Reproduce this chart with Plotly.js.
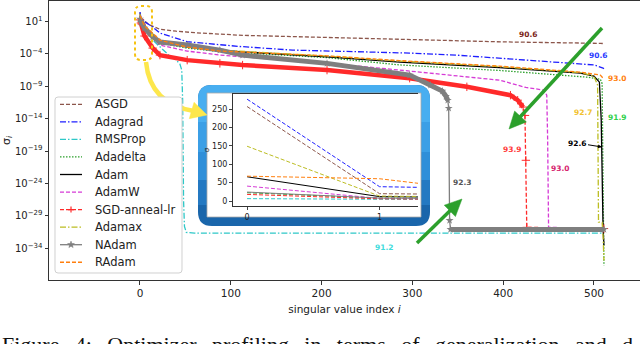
<!DOCTYPE html>
<html>
<head>
<meta charset="utf-8">
<script src="https://cdn.plot.ly/plotly-3.0.1.min.js"></script>
<style>
  html, body { margin: 0; padding: 0; background: #fff; }
  #chart { width: 640px; height: 344px; }
</style>
</head>
<body>
<div id="chart"></div>
<script>
/* singular value spectrum per optimizer (index i -> sigma_i) */

const names = ['ASGD', 'Adagrad', 'RMSProp', 'Adadelta', 'Adam', 'AdamW', 'SGD-anneal-lr', 'Adamax', 'NAdam', 'RAdam'];
const accText = ['90.6', '90.6', '91.2', '91.9', '92.6', '93.0', '93.9', '92.7', '92.3', '93.0'];

const asgdIdx = [0, 1, 2, 5, 10, 22, 40, 60, 113, 206, 297, 400, 507, 511];
const asgdVal = [257, 20, 17, 12, 3.2, 0.63, 0.32, 0.19, 0.074, 0.032, 0.014, 0.0072, 0.0043, 0.004];

const adagradIdx = [0, 1, 2, 5, 14, 22, 52, 69, 110, 168, 230, 297, 350, 396, 463, 500, 510, 511];
const adagradVal = [277, 39, 33, 10, 1.4, 0.166, 7.6e-3, 4.7e-3, 1.4e-3, 3.9e-4, 2.2e-4, 1.35e-4, 6.3e-5, 2.3e-5, 5.5e-6, 2e-6, 6.5e-7, 5e-7];

const rmspropIdx = [0, 1, 2, 5, 14, 22, 33, 40, 44, 46, 47, 48, 49, 51, 60, 511];
const rmspropVal = [6.5, 4, 3, 0.49, 0.0138, 1.15e-3, 4.6e-5, 1.1e-5, 2.7e-6, 3.2e-7, 7.2e-12, 2.5e-27, 2.3e-31, 2.8e-32, 2.2e-32, 2.2e-32];

const adadeltaIdx = [0, 1, 2, 5, 14, 22, 52, 88, 206, 286, 396, 492, 507, 509, 510, 511];
const adadeltaVal = [22.7, 8, 6, 1.0, 0.058, 4.7e-3, 7.9e-4, 2.3e-4, 2.7e-5, 2e-6, 2.8e-7, 2.6e-8, 1.26e-8, 2.5e-9, 3.2e-24, 2.2e-37];

const adamIdx = [0, 1, 2, 5, 14, 22, 52, 88, 113, 206, 286, 396, 485, 500, 506, 508, 509, 510, 511];
const adamVal = [66, 12, 8.9, 1.4, 0.081, 6.8e-3, 1.15e-3, 3.9e-4, 2.1e-4, 3.6e-5, 5.5e-6, 7.8e-7, 1.1e-7, 3.7e-8, 4.4e-9, 6.3e-15, 2.5e-27, 1.6e-31, 2.8e-34];

const adamwIdx = [0, 1, 2, 5, 14, 22, 52, 88, 206, 286, 396, 425, 445, 448, 449, 450, 511];
const adamwVal = [40.6, 7.1, 5, 0.8, 0.028, 2.3e-3, 2.75e-4, 6.6e-5, 3.8e-6, 3.2e-7, 8.9e-9, 6.6e-10, 2.6e-10, 4.3e-11, 5e-18, 1.7e-31, 1.1e-31];

const sgdIdx = [0, 1, 2, 5, 14, 22, 52, 88, 113, 206, 297, 360, 408, 416, 422, 424, 425, 426, 511];
const sgdVal = [18, 6, 4, 0.058, 7.9e-4, 6.6e-5, 1.1e-5, 3.5e-6, 1.9e-6, 3.2e-7, 1.8e-8, 8.3e-10, 4.3e-11, 7.2e-12, 6.3e-13, 3.2e-14, 3.8e-21, 1.7e-31, 1.1e-31];

const adamaxIdx = [0, 1, 2, 5, 14, 22, 52, 88, 206, 286, 396, 485, 500, 504, 505, 509, 510, 511];
const adamaxVal = [149, 13.5, 10, 1.6, 0.117, 9.5e-3, 1.35e-3, 3.9e-4, 4.6e-5, 7.8e-6, 1.1e-6, 1.3e-7, 3.7e-8, 1.5e-9, 1.1e-30, 1e-30, 1e-32, 1.3e-36];

const nadamIdx = [0, 1, 2, 5, 14, 22, 52, 88, 113, 206, 297, 320, 333, 337, 339, 340, 341, 342, 511];
const nadamVal = [24.4, 8, 6, 1.0, 0.045, 6.8e-3, 2.3e-3, 3.9e-4, 6.6e-5, 3.5e-6, 5.4e-8, 1.5e-9, 1.8e-10, 3e-11, 7.2e-12, 4.2e-13, 2e-30, 8.1e-32, 8.1e-32];

const radamIdx = [0, 1, 2, 5, 14, 22, 52, 88, 206, 286, 396, 485, 507, 511];
const radamVal = [67.6, 60.6, 18, 2.0, 0.166, 0.0138, 1.15e-3, 2.75e-4, 5.1e-5, 9.3e-6, 1.3e-6, 1.55e-7, 5.4e-8, 1.3e-8];

const yTickVals = [1e1, 1e-4, 1e-9, 1e-14, 1e-19, 1e-24, 1e-29, 1e-34];
const yTickText = ['10<sup>1</sup>', '10<sup>−4</sup>', '10<sup>−9</sup>', '10<sup>−14</sup>', '10<sup>−19</sup>', '10<sup>−24</sup>', '10<sup>−29</sup>', '10<sup>−34</sup>'];

const captionWords = ['Figure', '4:', 'Optimizer', 'profiling', 'in', 'terms', 'of', 'generalization', 'and', 'd'];

const idxList = [asgdIdx, adagradIdx, rmspropIdx, adadeltaIdx, adamIdx, adamwIdx, sgdIdx, adamaxIdx, nadamIdx, radamIdx];
const valList = [asgdVal, adagradVal, rmspropVal, adadeltaVal, adamVal, adamwVal, sgdVal, adamaxVal, nadamVal, radamVal];

// line styles (matplotlib-ish)
const DASH = '4px,2px', DASHDOT = '6px,2px,1.5px,2px', DOT = '1.5px,1.5px';
const styles = [
  { color: '#8c564b', dash: DASH },
  { color: '#1f1fff', dash: DASHDOT },
  { color: '#2ec8c8', dash: DASHDOT },
  { color: '#2ca02c', dash: DOT },
  { color: '#000000', dash: 'solid' },
  { color: '#d63bd6', dash: DASH },
  { color: '#ff2a2a', dash: DASH, marker: { symbol: 'cross-thin', size: 6, line: { width: 1, color: '#ff2a2a' } } },
  { color: '#bcbd22', dash: DASHDOT },
  { color: '#7f7f7f', dash: 'solid', marker: { symbol: 'star', size: 6, color: '#7f7f7f' } },
  { color: '#ff7f0e', dash: DASH },
];

// pixel -> paper helpers (plot area 49..640 x 1..280)
const PL = 49, PT = 1, PW = 591, PH = 279;
const px = x => (x - PL) / PW;
const py = y => (PT + PH - y) / PH;
const P = (x, y) => px(x).toFixed(5) + ',' + py(y).toFixed(5);
const paper = { xref: 'paper', yref: 'paper' };

function rrect(x0, y0, x1, y1, r, topOnly) {
  const rb = topOnly ? 0 : r;
  return `M${P(x0 + r, y0)} L${P(x1 - r, y0)} Q${P(x1, y0)} ${P(x1, y0 + r)} ` +
    `L${P(x1, y1 - rb)} Q${P(x1, y1)} ${P(x1 - rb, y1)} L${P(x0 + rb, y1)} Q${P(x0, y1)} ${P(x0, y1 - rb)} ` +
    `L${P(x0, y0 + r)} Q${P(x0, y0)} ${P(x0 + r, y0)} Z`;
}

function head(bx0, by0, x1, y1, hl, hw, color) {
  const dx = x1 - bx0, dy = y1 - by0, len = Math.hypot(dx, dy);
  const ux = dx / len, uy = dy / len, nx = -uy, ny = ux;
  const bx = x1 - ux * hl, by = y1 - uy * hl;
  return { type: 'path', ...paper, layer: 'above',
    path: `M${P(x1, y1)} L${P(bx + nx * hw / 2, by + ny * hw / 2)} L${P(bx - nx * hw / 2, by - ny * hw / 2)} Z`,
    fillcolor: color, line: { color: color, width: 0.5 } };
}

function arrow(x0, y0, x1, y1, w, hl, hw, color) {
  const len = Math.hypot(x1 - x0, y1 - y0);
  const ex = x1 - (x1 - x0) / len * (hl - 2), ey = y1 - (y1 - y0) / len * (hl - 2);
  return [
    { type: 'path', ...paper, layer: 'above', path: `M${P(x0, y0)} L${P(ex, ey)}`, line: { color: color, width: w } },
    head(x0, y0, x1, y1, hl, hw, color),
  ];
}

function starPath(cx, cy, ro, ri) {
  let d = '';
  for (let j = 0; j < 10; j++) {
    const a = -Math.PI / 2 + j * Math.PI / 5, r = j % 2 ? ri : ro;
    d += (j ? ' L' : 'M') + P(cx + r * Math.cos(a), cy + r * Math.sin(a));
  }
  return d + ' Z';
}

const traces = [];
names.forEach((name, k) => {
  const st = styles[k];
  const xs = idxList[k], ys = valList[k];
  // dense markers of the original merge into a thick band for these two
  if (name === 'SGD-anneal-lr' || name === 'NAdam') {
    const cut = name === 'NAdam' ? [340, 341] : [424, 511];
    traces.push({
      x: xs, y: ys.map((v, j) => (xs[j] >= cut[0] && xs[j] <= cut[1]) ? null : v),
      mode: 'lines', connectgaps: false,
      line: { color: st.color, width: name === 'NAdam' ? 5 : 4.5 },
    });
  }
  const tr = { x: xs, y: ys, name: name, mode: 'lines', line: { color: st.color, width: 1.3, dash: st.dash } };
  if (st.marker) { tr.mode = 'lines+markers'; tr.marker = st.marker; }
  traces.push(tr);
});
// inset: first singular values on a linear scale
names.forEach((name, k) => {
  const st = styles[k];
  traces.push({
    x: idxList[k].slice(0, 4), y: valList[k].slice(0, 4),
    xaxis: 'x2', yaxis: 'y2', mode: 'lines',
    line: { color: st.color, width: 1, dash: st.dash === 'solid' ? 'solid' : DASH },
  });
});

// accuracy labels: [series, x px, y px, color]
const labelPos = [
  [0, 528, 34, '#7b2418'],
  [1, 598, 55, '#2b3bff'],
  [2, 384, 247, '#3fdcdc'],
  [3, 617, 118, '#2fd04a'],
  [5, 560, 168, '#d6246e'],
  [6, 512, 149, '#ff3b3b'],
  [7, 583, 112, '#f2c12e'],
  [8, 462, 183, '#555555'],
  [9, 617, 79, '#ff7f0e'],
];
const annotations = labelPos.map(([k, x, y, c]) => ({
  ...paper, x: px(x), y: py(y), text: '<b>' + accText[k] + '</b>',
  showarrow: false, font: { size: 7.5, color: c }, xanchor: 'center', yanchor: 'middle',
}));
annotations.push({
  ...paper, x: px(602), y: py(147), ax: -25, ay: -4,
  text: '<b>' + accText[4] + '</b>', font: { size: 7.5, color: '#000' },
  showarrow: true, arrowhead: 2, arrowsize: 0.8, arrowwidth: 1, arrowcolor: '#000',
});
annotations.push({
  ...paper, x: px(0), y: py(330), xanchor: 'left', yanchor: 'top',
  text: captionWords.join('\u00a0\u00a0\u2009'),
  showarrow: false, font: { family: 'Liberation Serif, serif', size: 22, color: '#111' },
});

const shapes = [
  // inset frame (blue, fake vertical gradient)
  { type: 'path', ...paper, layer: 'below', path: rrect(198, 85, 430, 226, 14), fillcolor: '#1a66ab', line: { width: 0 } },
  { type: 'path', ...paper, layer: 'below', path: rrect(198, 85, 430, 122, 14, true), fillcolor: '#48aef0', line: { width: 0 } },
  { type: 'rect', ...paper, layer: 'below', x0: px(198), x1: px(430), y0: py(122), y1: py(152), fillcolor: '#3b9fe6', line: { width: 0 } },
  { type: 'rect', ...paper, layer: 'below', x0: px(198), x1: px(430), y0: py(152), y1: py(180), fillcolor: '#2f8fd9', line: { width: 0 } },
  { type: 'rect', ...paper, layer: 'below', x0: px(198), x1: px(430), y0: py(180), y1: py(205), fillcolor: '#2479c2', line: { width: 0 } },
  { type: 'rect', ...paper, layer: 'below', x0: px(207), x1: px(421), y0: py(93), y1: py(217), fillcolor: '#ffffff', line: { color: '#a8a8a8', width: 0.8 } },
  // dotted highlight around the first values
  { type: 'path', ...paper, layer: 'above', path: rrect(135, 6, 152, 60, 6), line: { color: '#f5c211', width: 2, dash: 'dot' } },
  // curved yellow pointer to the inset
  { type: 'path', ...paper, layer: 'above', path: `M${P(146, 62)} Q${P(150, 104)} ${P(194, 111)}`, line: { color: '#fde74c', width: 4.5 } },
  head(190, 110, 207, 115, 16, 17, '#fde74c'),
  ...arrow(602, 28, 509, 129, 3.5, 17, 16, '#2ca02c'),
  ...arrow(417, 243, 462, 199, 3.5, 17, 16, '#2ca02c'),
  // legend box
  { type: 'path', ...paper, layer: 'above', path: rrect(55, 97, 182, 273, 3), fillcolor: '#ffffff', line: { color: '#d0d0d0', width: 1 } },
];

// legend entries (matplotlib-like spacing)
names.forEach((name, k) => {
  const st = styles[k], yy = 104.3 + k * 17.55;
  shapes.push({ type: 'line', ...paper, layer: 'above', x0: px(60), x1: px(82), y0: py(yy), y1: py(yy),
    line: { color: st.color, width: 1.3, dash: st.dash } });
  if (name === 'NAdam') {
    shapes.push({ type: 'path', ...paper, layer: 'above', path: starPath(71, yy, 3.6, 1.5), fillcolor: st.color, line: { color: st.color, width: 0.5 } });
  }
  if (name === 'SGD-anneal-lr') {
    shapes.push({ type: 'path', ...paper, layer: 'above', path: `M${P(68, yy)} L${P(74, yy)} M${P(71, yy - 3)} L${P(71, yy + 3)}`, line: { color: st.color, width: 1.2 } });
  }
  annotations.push({ ...paper, x: px(93), y: py(yy), xanchor: 'left', yanchor: 'middle', text: name,
    showarrow: false, font: { size: 11.5, color: '#222' } });
});

const layout = {
  width: 640, height: 344,
  margin: { l: PL, r: 0, t: PT, b: 344 - PT - PH },
  paper_bgcolor: '#ffffff', plot_bgcolor: 'rgba(0,0,0,0)',
  font: { family: 'DejaVu Sans, sans-serif', color: '#222' },
  showlegend: false,
  xaxis: {
    domain: [0, 1], range: [-100.2, 550.7], showgrid: false, zeroline: false,
    showline: true, linecolor: '#333', linewidth: 1, mirror: true,
    ticks: 'outside', ticklen: 3.5, tickcolor: '#333',
    tickvals: [0, 100, 200, 300, 400, 500], tickfont: { size: 10.5 },
    title: { text: 'singular value index <i>i</i>', font: { size: 10.5 }, standoff: 7 },
  },
  yaxis: {
    type: 'log', range: [-38.9, 4.17], showgrid: false, zeroline: false,
    showline: true, linecolor: '#333', linewidth: 1, mirror: false,
    ticks: 'outside', ticklen: 3.5, tickcolor: '#333',
    tickvals: yTickVals, ticktext: yTickText, tickfont: { size: 10 },
    title: { text: 'σ<sub><i>i</i></sub>', font: { size: 11 }, standoff: 2 },
  },
  xaxis2: {
    anchor: 'y2', domain: [px(233), px(418)], range: [-0.106, 1.29],
    showgrid: false, zeroline: false, showline: true, mirror: true, linecolor: '#333', linewidth: 1.2,
    ticks: 'outside', ticklen: 3, tickvals: [0, 1], tickfont: { size: 8 },
  },
  yaxis2: {
    anchor: 'x2', domain: [py(206), py(94)], range: [-13.5, 291],
    showgrid: false, zeroline: false, showline: true, linecolor: '#333', linewidth: 1,
    ticks: 'outside', ticklen: 3, tickvals: [0, 50, 100, 150, 200, 250], tickfont: { size: 8 },
    title: { text: 'σ', font: { size: 7 }, standoff: 1 },
  },
  shapes: shapes,
  annotations: annotations,
  hovermode: false,
};

Plotly.newPlot('chart', traces, layout, { staticPlot: true, displayModeBar: false });
</script>
</body>
</html>
